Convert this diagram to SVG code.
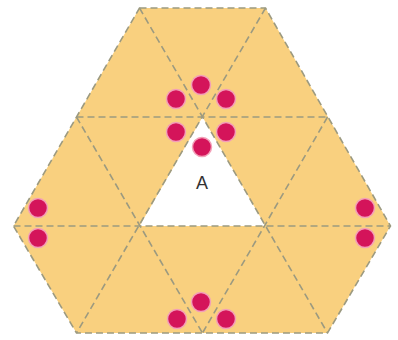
<svg xmlns="http://www.w3.org/2000/svg" width="398" height="340" viewBox="0 0 398 340">
<style>
.g{stroke:#9c9a80;stroke-width:1.6;stroke-dasharray:7 4;fill:none}
.d{fill:#d4145a;stroke:#f3a0b8;stroke-width:1.5}
</style>
<rect width="398" height="340" fill="#ffffff"/>
<g id="hexagon">
<polygon points="139.5,8 265.5,8 390.5,226 327.5,333 76.5,333 13.5,226" fill="#f9d07f"/>
<polygon points="139.5,226 202.5,117 265.5,226" fill="#ffffff"/>
</g>
<g id="grid">
<polygon class="g" points="139.5,8 265.5,8 390.5,226 327.5,333 76.5,333 13.5,226"/>
<line class="g" x1="76.5" y1="117" x2="327.5" y2="117"/>
<line class="g" x1="13.5" y1="226" x2="390.5" y2="226"/>
<line class="g" x1="139.5" y1="8" x2="327.5" y2="333"/>
<line class="g" x1="265.5" y1="8" x2="76.5" y2="333"/>
<line class="g" x1="76.5" y1="117" x2="202.5" y2="333"/>
<line class="g" x1="327.5" y1="117" x2="202.5" y2="333"/>
</g>
<g id="label-A">
<text x="202" y="189" font-family="Liberation Sans, Arial, sans-serif" font-size="18" fill="#333333" text-anchor="middle">A</text>
</g>
<g id="dots-top">
<circle class="d" cx="201" cy="85" r="9.5"/>
<circle class="d" cx="176" cy="99" r="9.5"/>
<circle class="d" cx="226" cy="99" r="9.5"/>
<circle class="d" cx="176" cy="132" r="9.5"/>
<circle class="d" cx="226" cy="132" r="9.5"/>
<circle class="d" cx="202" cy="147" r="9.5"/>
</g>
<g id="dots-left">
<circle class="d" cx="38" cy="208" r="9.5"/>
<circle class="d" cx="38" cy="238" r="9.5"/>
</g>
<g id="dots-right">
<circle class="d" cx="365" cy="208" r="9.5"/>
<circle class="d" cx="365" cy="238" r="9.5"/>
</g>
<g id="dots-bottom">
<circle class="d" cx="201" cy="302" r="9.5"/>
<circle class="d" cx="177" cy="319" r="9.5"/>
<circle class="d" cx="226" cy="319" r="9.5"/>
</g>
</svg>
